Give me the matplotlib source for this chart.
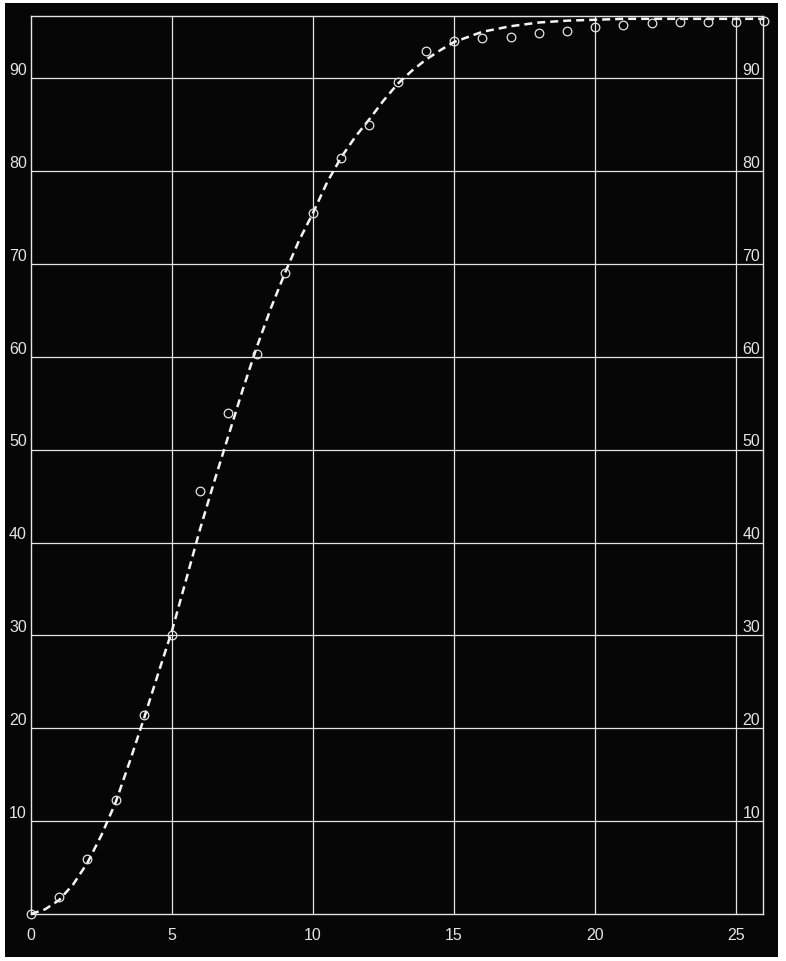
"""
plot.py
-------
Growth curve on a blackboard-style grid: observed values (open circles)
with the smoothed curve drawn through them (dashed).

Figure saved to: out.png
"""

import matplotlib
import matplotlib.pyplot as plt
from matplotlib.patches import Rectangle

matplotlib.use("Agg")

plt.rcParams.update({
    "font.family": ["Liberation Sans", "DejaVu Sans"],
})

# Observed values, one per step
obs_x = [0, 1, 2, 3, 4, 5, 6, 7, 8, 9, 10, 11, 12, 13,
         14, 15, 16, 17, 18, 19, 20, 21, 22, 23, 24, 25, 26]
obs_y = [0.0, 1.8, 5.9, 12.3, 21.4, 30.0, 45.5, 54.0, 60.3, 69.0, 75.5, 81.4, 85.0, 89.6,
         92.9, 94.0, 94.3, 94.4, 94.9, 95.1, 95.5, 95.7, 95.9, 96.1, 96.1, 96.1, 96.2]

# Smoothed curve
curve_x = [0, 0.5, 1, 1.5, 2, 2.5, 3, 3.5, 4, 4.5, 5, 5.5, 6, 6.5, 7, 7.5, 8, 8.5,
           9, 9.5, 10, 10.5, 11, 11.5, 12, 12.5, 13, 13.5, 14, 14.5, 15, 16, 17,
           18, 19, 20, 21, 22, 23, 24, 25, 26]
curve_y = [0.0, 0.5, 1.5, 3.2, 5.5, 8.5, 12.0, 16.4, 21.0, 25.8, 30.5, 36.0, 41.5, 46.6,
           51.5, 56.4, 61.0, 65.2, 69.0, 72.5, 75.5, 78.8, 81.5, 83.7, 85.6, 87.6, 89.4,
           90.8, 92.0, 93.0, 93.9, 95.0, 95.6, 96.0, 96.2, 96.3, 96.4, 96.4, 96.4, 96.4,
           96.4, 96.4]

x_ticks = [0, 5, 10, 15, 20, 25]
y_ticks = [10, 20, 30, 40, 50, 60, 70, 80, 90]

X_MAX = 25.95
Y_MAX = 96.7

INK = "#e4e4e4"
BOARD = "#060606"


def main():
    fig = plt.figure(figsize=(7.86, 9.62), dpi=100, facecolor="white")

    # dark board behind the grid
    fig.patches.append(Rectangle((0.0064, 0.0042), 0.9835, 0.9917,
                                 transform=fig.transFigure, facecolor=BOARD,
                                 edgecolor="none", zorder=-10))

    ax = fig.add_axes([0.0394, 0.0489, 0.9313, 0.9334])
    ax.set_zorder(1)
    ax.set_facecolor(BOARD)
    ax.set_xlim(0, X_MAX)
    ax.set_ylim(0, Y_MAX)

    for side in ax.spines.values():
        side.set_color(INK)
        side.set_linewidth(1.0)
    ax.set_xticks([])
    ax.set_yticks([])

    # grid
    for xv in x_ticks[1:]:
        ax.axvline(xv, color=INK, linewidth=0.9, zorder=1)
    for yv in y_ticks:
        ax.axhline(yv, color=INK, linewidth=0.9, zorder=1)

    # tick labels: left outside the frame, right inside, both sitting on the line
    for yv in y_ticks:
        ax.text(-0.15, yv + 0.45, str(yv), ha="right", va="baseline",
                color=INK, fontsize=11.5, clip_on=False)
        ax.text(X_MAX - 0.1, yv + 0.45, str(yv), ha="right", va="baseline",
                color=INK, fontsize=11.5)
    for xv in x_ticks:
        ax.text(xv, -1.45, str(xv), ha="center", va="top",
                color=INK, fontsize=11.5, clip_on=False)

    # smoothed curve
    line, = ax.plot(curve_x, curve_y, color="#f4f4f4", linewidth=1.8,
                    zorder=3, clip_on=False)
    line.set_dashes((3.2, 2.0))

    # observations
    ax.plot(obs_x, obs_y, linestyle="none", marker="o", markersize=6.2,
            markerfacecolor="none", markeredgecolor=INK, markeredgewidth=0.9,
            zorder=4, clip_on=False)

    fig.savefig("out.png", dpi=100, facecolor="white")
    plt.close(fig)


if __name__ == "__main__":
    main()
